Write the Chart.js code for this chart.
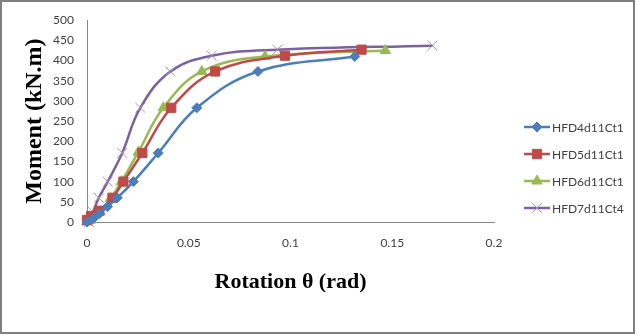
<!DOCTYPE html>
<html>
<head>
<meta charset="utf-8">
<script src="https://cdn.jsdelivr.net/npm/chart.js@4.4.0/dist/chart.umd.min.js"></script>
<style>
  html, body { margin: 0; padding: 0; background: #fff; }
  #wrap { width: 637px; height: 335px; position: relative; }
</style>
</head>
<body>
<div id="wrap"><canvas id="courbe" width="637" height="335"></canvas></div>
<script>
// Moment - rotation curves of the four specimens
const SERIES = ["HFD4d11Ct1", "HFD5d11Ct1", "HFD6d11Ct1", "HFD7d11Ct4"];

const rotHFD4 = [0, 0.003, 0.006, 0.0101, 0.0149, 0.0228, 0.035, 0.054, 0.084, 0.1316];
const momHFD4 = [0, 8, 20, 38, 60, 100, 171, 283, 373, 410];

const rotHFD5 = [0, 0.002, 0.006, 0.0125, 0.0179, 0.0272, 0.0414, 0.063, 0.0973, 0.1349];
const momHFD5 = [5, 15, 28, 60, 100, 171, 283, 373, 412, 427];

const rotHFD6 = [0, 0.002, 0.0065, 0.0115, 0.0169, 0.0252, 0.0375, 0.0564, 0.0875, 0.1466];
const momHFD6 = [0, 5, 25, 58, 100, 173, 283, 373, 410, 425];

const rotHFD7 = [0.001, 0.003, 0.0058, 0.0102, 0.0173, 0.0262, 0.041, 0.0613, 0.0935, 0.1698];
const momHFD7 = [0, 25, 60, 100, 171, 283, 373, 412, 427, 437];

const X_TICKS = [0, 0.05, 0.1, 0.15, 0.2];
const Y_TICKS = [0, 50, 100, 150, 200, 250, 300, 350, 400, 450, 500];

const COULEURS = ["#4A7EBB", "#BE4B48", "#98B954", "#7D60A0"];
const MARQUEURS = ["rectRot", "rect", "triangle", "crossRot"];
const TAILLES = [5, 6.5, 6, 7];

const points = (xs, ys) => xs.map((x, i) => ({ x: x, y: ys[i] }));
const donnees = [
  points(rotHFD4, momHFD4),
  points(rotHFD5, momHFD5),
  points(rotHFD6, momHFD6),
  points(rotHFD7, momHFD7),
];

const datasets = SERIES.map((nom, i) => ({
  label: nom,
  data: donnees[i],
  showLine: true,
  clip: false,
  borderColor: COULEURS[i],
  backgroundColor: COULEURS[i],
  borderWidth: 2.5,
  tension: 0.4,
  pointStyle: MARQUEURS[i],
  pointRadius: TAILLES[i],
  pointBorderWidth: 1,
  pointBorderColor: i === 3 ? "#A592C4" : COULEURS[i],
  pointBackgroundColor: COULEURS[i],
  pointHoverRadius: TAILLES[i],
}));

// légende à droite : trait + marqueur + nom
const legendeExcel = {
  id: "legendeExcel",
  afterDraw(chart) {
    const ctx = chart.ctx;
    ctx.save();
    chart.data.datasets.forEach((ds, i) => {
      const y = 127 + i * 27;
      ctx.strokeStyle = ds.borderColor;
      ctx.lineWidth = 2.5;
      ctx.beginPath();
      ctx.moveTo(524, y);
      ctx.lineTo(550, y);
      ctx.stroke();
      ctx.fillStyle = ds.pointBackgroundColor;
      ctx.strokeStyle = ds.pointBorderColor;
      ctx.lineWidth = 1;
      Chart.helpers.drawPoint(ctx, { pointStyle: ds.pointStyle, radius: ds.pointRadius, rotation: 0, borderWidth: 1 }, 537, y);
      ctx.fillStyle = "#404040";
      ctx.font = "12px Lato";
      ctx.textBaseline = "middle";
      ctx.textAlign = "left";
      ctx.fillText(ds.label, 552, y + 1);
    });
    // cadre
    ctx.strokeStyle = "#7F7F7F";
    ctx.lineWidth = 2;
    ctx.strokeRect(1, 1, 633, 332);
    ctx.restore();
  },
};

new Chart(document.getElementById("courbe"), {
  type: "scatter",
  data: { datasets: datasets },
  options: {
    responsive: false,
    animation: false,
    devicePixelRatio: 1,
    layout: { padding: { left: 20, top: 17, right: 143, bottom: 39 } },
    plugins: {
      legend: { display: false },
      tooltip: { enabled: false },
    },
    scales: {
      x: {
        type: "linear",
        min: 0,
        max: 0.2,
        afterFit: (s) => { s.height = 74; },
        afterBuildTicks: (s) => { s.ticks = X_TICKS.map((v) => ({ value: v })); },
        grid: { display: true, color: "rgba(0,0,0,0)", drawTicks: false },
        border: { display: true, color: "#868686", width: 1 },
        ticks: {
          padding: 14,
          color: "#404040",
          font: { family: "Lato", size: 12 },
          maxRotation: 0,
          callback: (v) => String(v),
        },
        title: {
          display: true,
          text: "Rotation θ (rad)",
          color: "#000",
          padding: 0,
          font: { family: "Liberation Serif", size: 22, weight: "bold" },
        },
      },
      y: {
        min: 0,
        max: 500,
        afterFit: (s) => { s.width = 67; },
        afterBuildTicks: (s) => { s.ticks = Y_TICKS.map((v) => ({ value: v })); },
        grid: { display: true, color: "rgba(0,0,0,0)", drawTicks: false },
        border: { display: true, color: "#868686", width: 1 },
        ticks: {
          padding: 13,
          color: "#404040",
          font: { family: "Lato", size: 12 },
        },
        title: {
          display: true,
          text: "Moment (kN.m)",
          color: "#000",
          padding: 0,
          font: { family: "Liberation Serif", size: 24, weight: "bold" },
        },
      },
    },
  },
  plugins: [legendeExcel],
});
</script>
</body>
</html>
